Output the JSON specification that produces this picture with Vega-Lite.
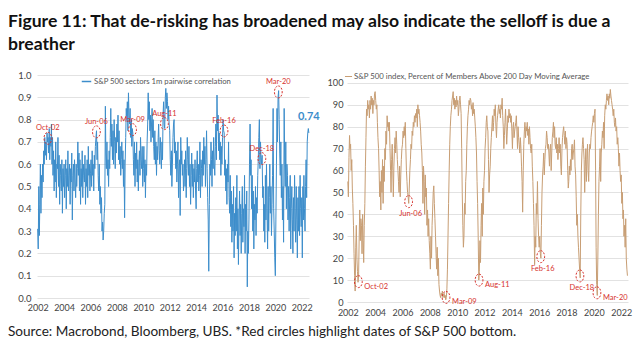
{
  "$schema": "https://vega.github.io/schema/vega-lite/v6.json",
  "padding": {"left": 8, "top": 13, "right": 4, "bottom": 4},
  "title": {
    "text": ["Figure 11: That de-risking has broadened may also indicate the selloff is due a", "breather"],
    "anchor": "start", "font": "Lato", "fontSize": 17.6, "fontWeight": "bold", "color": "#111111", "lineHeight": 23, "offset": 16
  },
  "datasets": {
    "series": [
      {"date":"2002-01-01","corr":0.31,"pct":55},{"date":"2002-01-16","corr":0.22,"pct":48},{"date":"2002-02-01","corr":0.5,"pct":66},{"date":"2002-02-16","corr":0.28,"pct":76},{"date":"2002-03-01","corr":0.42,"pct":70},{"date":"2002-03-16","corr":0.6,"pct":72},{"date":"2002-04-01","corr":0.38,"pct":60},{"date":"2002-04-16","corr":0.55,"pct":65},{"date":"2002-05-01","corr":0.45,"pct":52},{"date":"2002-05-16","corr":0.6,"pct":45},{"date":"2002-06-01","corr":0.52,"pct":35},{"date":"2002-06-16","corr":0.66,"pct":22},{"date":"2002-07-01","corr":0.6,"pct":12},{"date":"2002-07-16","corr":0.72,"pct":5},{"date":"2002-08-01","corr":0.64,"pct":25},{"date":"2002-08-16","corr":0.7,"pct":35},{"date":"2002-09-01","corr":0.62,"pct":20},{"date":"2002-09-16","corr":0.74,"pct":14},{"date":"2002-10-01","corr":0.7,"pct":9},{"date":"2002-10-16","corr":0.72,"pct":12},{"date":"2002-11-01","corr":0.65,"pct":30},{"date":"2002-11-16","corr":0.76,"pct":42},{"date":"2002-12-01","corr":0.62,"pct":28},{"date":"2002-12-16","corr":0.72,"pct":38},
      {"date":"2003-01-01","corr":0.68,"pct":35},{"date":"2003-01-16","corr":0.78,"pct":22},{"date":"2003-02-01","corr":0.6,"pct":40},{"date":"2003-02-16","corr":0.72,"pct":28},{"date":"2003-03-01","corr":0.55,"pct":18},{"date":"2003-03-16","corr":0.66,"pct":35},{"date":"2003-04-01","corr":0.48,"pct":45},{"date":"2003-04-16","corr":0.62,"pct":62},{"date":"2003-05-01","corr":0.52,"pct":75},{"date":"2003-05-16","corr":0.7,"pct":88},{"date":"2003-06-01","corr":0.45,"pct":85},{"date":"2003-06-16","corr":0.6,"pct":92},{"date":"2003-07-01","corr":0.58,"pct":88},{"date":"2003-07-16","corr":0.72,"pct":90},{"date":"2003-08-01","corr":0.5,"pct":84},{"date":"2003-08-16","corr":0.64,"pct":92},{"date":"2003-09-01","corr":0.42,"pct":88},{"date":"2003-09-16","corr":0.6,"pct":94},{"date":"2003-10-01","corr":0.55,"pct":90},{"date":"2003-10-16","corr":0.48,"pct":93},{"date":"2003-11-01","corr":0.62,"pct":86},{"date":"2003-11-16","corr":0.38,"pct":92},{"date":"2003-12-01","corr":0.58,"pct":90},{"date":"2003-12-16","corr":0.5,"pct":95},
      {"date":"2004-01-01","corr":0.6,"pct":96},{"date":"2004-01-16","corr":0.45,"pct":92},{"date":"2004-02-01","corr":0.55,"pct":88},{"date":"2004-02-16","corr":0.62,"pct":90},{"date":"2004-03-01","corr":0.4,"pct":82},{"date":"2004-03-16","corr":0.58,"pct":75},{"date":"2004-04-01","corr":0.5,"pct":70},{"date":"2004-04-16","corr":0.66,"pct":60},{"date":"2004-05-01","corr":0.48,"pct":48},{"date":"2004-05-16","corr":0.55,"pct":55},{"date":"2004-06-01","corr":0.6,"pct":42},{"date":"2004-06-16","corr":0.42,"pct":60},{"date":"2004-07-01","corr":0.58,"pct":50},{"date":"2004-07-16","corr":0.52,"pct":65},{"date":"2004-08-01","corr":0.65,"pct":45},{"date":"2004-08-16","corr":0.35,"pct":62},{"date":"2004-09-01","corr":0.55,"pct":55},{"date":"2004-09-16","corr":0.6,"pct":70},{"date":"2004-10-01","corr":0.48,"pct":65},{"date":"2004-10-16","corr":0.62,"pct":78},{"date":"2004-11-01","corr":0.52,"pct":72},{"date":"2004-11-16","corr":0.45,"pct":85},{"date":"2004-12-01","corr":0.6,"pct":80},{"date":"2004-12-16","corr":0.5,"pct":82},
      {"date":"2005-01-01","corr":0.58,"pct":78},{"date":"2005-01-16","corr":0.7,"pct":82},{"date":"2005-02-01","corr":0.55,"pct":70},{"date":"2005-02-16","corr":0.65,"pct":60},{"date":"2005-03-01","corr":0.48,"pct":50},{"date":"2005-03-16","corr":0.62,"pct":65},{"date":"2005-04-01","corr":0.42,"pct":72},{"date":"2005-04-16","corr":0.58,"pct":60},{"date":"2005-05-01","corr":0.5,"pct":48},{"date":"2005-05-16","corr":0.66,"pct":62},{"date":"2005-06-01","corr":0.45,"pct":70},{"date":"2005-06-16","corr":0.6,"pct":75},{"date":"2005-07-01","corr":0.55,"pct":68},{"date":"2005-07-16","corr":0.52,"pct":78},{"date":"2005-08-01","corr":0.64,"pct":72},{"date":"2005-08-16","corr":0.42,"pct":65},{"date":"2005-09-01","corr":0.58,"pct":60},{"date":"2005-09-16","corr":0.5,"pct":55},{"date":"2005-10-01","corr":0.62,"pct":50},{"date":"2005-10-16","corr":0.45,"pct":62},{"date":"2005-11-01","corr":0.68,"pct":48},{"date":"2005-11-16","corr":0.55,"pct":58},{"date":"2005-12-01","corr":0.6,"pct":65},{"date":"2005-12-16","corr":0.48,"pct":70},
      {"date":"2006-01-01","corr":0.56,"pct":72},{"date":"2006-01-16","corr":0.62,"pct":78},{"date":"2006-02-01","corr":0.5,"pct":75},{"date":"2006-02-16","corr":0.66,"pct":80},{"date":"2006-03-01","corr":0.55,"pct":76},{"date":"2006-03-16","corr":0.6,"pct":82},{"date":"2006-04-01","corr":0.48,"pct":70},{"date":"2006-04-16","corr":0.64,"pct":60},{"date":"2006-05-01","corr":0.58,"pct":55},{"date":"2006-05-16","corr":0.68,"pct":50},{"date":"2006-06-01","corr":0.72,"pct":48},{"date":"2006-06-16","corr":0.75,"pct":45},{"date":"2006-07-01","corr":0.62,"pct":52},{"date":"2006-07-16","corr":0.7,"pct":60},{"date":"2006-08-01","corr":0.55,"pct":65},{"date":"2006-08-16","corr":0.48,"pct":72},{"date":"2006-09-01","corr":0.6,"pct":70},{"date":"2006-09-16","corr":0.42,"pct":78},{"date":"2006-10-01","corr":0.5,"pct":76},{"date":"2006-10-16","corr":0.38,"pct":82},{"date":"2006-11-01","corr":0.45,"pct":80},{"date":"2006-11-16","corr":0.3,"pct":85},{"date":"2006-12-01","corr":0.34,"pct":82},{"date":"2006-12-16","corr":0.26,"pct":86},
      {"date":"2007-01-01","corr":0.3,"pct":84},{"date":"2007-01-16","corr":0.38,"pct":88},{"date":"2007-02-01","corr":0.42,"pct":80},{"date":"2007-02-16","corr":0.86,"pct":90},{"date":"2007-03-01","corr":0.65,"pct":86},{"date":"2007-03-16","corr":0.58,"pct":88},{"date":"2007-04-01","corr":0.7,"pct":85},{"date":"2007-04-16","corr":0.55,"pct":82},{"date":"2007-05-01","corr":0.62,"pct":78},{"date":"2007-05-16","corr":0.5,"pct":72},{"date":"2007-06-01","corr":0.66,"pct":68},{"date":"2007-06-16","corr":0.58,"pct":60},{"date":"2007-07-01","corr":0.72,"pct":45},{"date":"2007-07-16","corr":0.85,"pct":62},{"date":"2007-08-01","corr":0.68,"pct":55},{"date":"2007-08-16","corr":0.78,"pct":40},{"date":"2007-09-01","corr":0.62,"pct":58},{"date":"2007-09-16","corr":0.75,"pct":48},{"date":"2007-10-01","corr":0.6,"pct":52},{"date":"2007-10-16","corr":0.8,"pct":35},{"date":"2007-11-01","corr":0.7,"pct":42},{"date":"2007-11-16","corr":0.58,"pct":30},{"date":"2007-12-01","corr":0.72,"pct":38},{"date":"2007-12-16","corr":0.65,"pct":28},
      {"date":"2008-01-01","corr":0.78,"pct":22},{"date":"2008-01-16","corr":0.7,"pct":15},{"date":"2008-02-01","corr":0.82,"pct":30},{"date":"2008-02-16","corr":0.62,"pct":20},{"date":"2008-03-01","corr":0.75,"pct":35},{"date":"2008-03-16","corr":0.6,"pct":42},{"date":"2008-04-01","corr":0.68,"pct":50},{"date":"2008-04-16","corr":0.55,"pct":53},{"date":"2008-05-01","corr":0.62,"pct":45},{"date":"2008-05-16","corr":0.7,"pct":38},{"date":"2008-06-01","corr":0.58,"pct":30},{"date":"2008-06-16","corr":0.66,"pct":22},{"date":"2008-07-01","corr":0.5,"pct":15},{"date":"2008-07-16","corr":0.62,"pct":25},{"date":"2008-08-01","corr":0.36,"pct":12},{"date":"2008-08-16","corr":0.6,"pct":20},{"date":"2008-09-01","corr":0.72,"pct":8},{"date":"2008-09-16","corr":0.85,"pct":5},{"date":"2008-10-01","corr":0.8,"pct":3},{"date":"2008-10-16","corr":0.88,"pct":2},{"date":"2008-11-01","corr":0.75,"pct":4},{"date":"2008-11-16","corr":0.92,"pct":3},{"date":"2008-12-01","corr":0.82,"pct":5},{"date":"2008-12-16","corr":0.78,"pct":2},
      {"date":"2009-01-01","corr":0.85,"pct":3},{"date":"2009-01-16","corr":0.72,"pct":4},{"date":"2009-02-01","corr":0.8,"pct":2},{"date":"2009-02-16","corr":0.68,"pct":3},{"date":"2009-03-01","corr":0.76,"pct":1},{"date":"2009-03-16","corr":0.74,"pct":2},{"date":"2009-04-01","corr":0.62,"pct":6},{"date":"2009-04-16","corr":0.55,"pct":15},{"date":"2009-05-01","corr":0.7,"pct":30},{"date":"2009-05-16","corr":0.5,"pct":45},{"date":"2009-06-01","corr":0.65,"pct":60},{"date":"2009-06-16","corr":0.58,"pct":72},{"date":"2009-07-01","corr":0.7,"pct":80},{"date":"2009-07-16","corr":0.52,"pct":85},{"date":"2009-08-01","corr":0.62,"pct":88},{"date":"2009-08-16","corr":0.48,"pct":92},{"date":"2009-09-01","corr":0.6,"pct":94},{"date":"2009-09-16","corr":0.66,"pct":96},{"date":"2009-10-01","corr":0.55,"pct":90},{"date":"2009-10-16","corr":0.72,"pct":93},{"date":"2009-11-01","corr":0.62,"pct":88},{"date":"2009-11-16","corr":0.58,"pct":92},{"date":"2009-12-01","corr":0.68,"pct":89},{"date":"2009-12-16","corr":0.5,"pct":94},
      {"date":"2010-01-01","corr":0.58,"pct":90},{"date":"2010-01-16","corr":0.68,"pct":92},{"date":"2010-02-01","corr":0.52,"pct":85},{"date":"2010-02-16","corr":0.62,"pct":88},{"date":"2010-03-01","corr":0.45,"pct":92},{"date":"2010-03-16","corr":0.6,"pct":94},{"date":"2010-04-01","corr":0.55,"pct":90},{"date":"2010-04-16","corr":0.7,"pct":86},{"date":"2010-05-01","corr":0.78,"pct":70},{"date":"2010-05-16","corr":0.92,"pct":50},{"date":"2010-06-01","corr":0.8,"pct":35},{"date":"2010-06-16","corr":0.88,"pct":25},{"date":"2010-07-01","corr":0.75,"pct":30},{"date":"2010-07-16","corr":0.82,"pct":45},{"date":"2010-08-01","corr":0.7,"pct":40},{"date":"2010-08-16","corr":0.78,"pct":55},{"date":"2010-09-01","corr":0.85,"pct":60},{"date":"2010-09-16","corr":0.72,"pct":72},{"date":"2010-10-01","corr":0.8,"pct":80},{"date":"2010-10-16","corr":0.68,"pct":85},{"date":"2010-11-01","corr":0.62,"pct":88},{"date":"2010-11-16","corr":0.75,"pct":92},{"date":"2010-12-01","corr":0.6,"pct":90},{"date":"2010-12-16","corr":0.7,"pct":93},
      {"date":"2011-01-01","corr":0.55,"pct":92},{"date":"2011-01-16","corr":0.68,"pct":88},{"date":"2011-02-01","corr":0.62,"pct":90},{"date":"2011-02-16","corr":0.72,"pct":85},{"date":"2011-03-01","corr":0.78,"pct":91},{"date":"2011-03-16","corr":0.66,"pct":86},{"date":"2011-04-01","corr":0.6,"pct":88},{"date":"2011-04-16","corr":0.72,"pct":84},{"date":"2011-05-01","corr":0.65,"pct":80},{"date":"2011-05-16","corr":0.58,"pct":75},{"date":"2011-06-01","corr":0.7,"pct":68},{"date":"2011-06-16","corr":0.62,"pct":55},{"date":"2011-07-01","corr":0.82,"pct":45},{"date":"2011-07-16","corr":0.88,"pct":30},{"date":"2011-08-01","corr":0.78,"pct":10},{"date":"2011-08-16","corr":0.76,"pct":14},{"date":"2011-09-01","corr":0.9,"pct":28},{"date":"2011-09-16","corr":0.94,"pct":18},{"date":"2011-10-01","corr":0.85,"pct":35},{"date":"2011-10-16","corr":0.92,"pct":45},{"date":"2011-11-01","corr":0.88,"pct":30},{"date":"2011-11-16","corr":0.8,"pct":52},{"date":"2011-12-01","corr":0.86,"pct":40},{"date":"2011-12-16","corr":0.78,"pct":55},
      {"date":"2012-01-01","corr":0.75,"pct":60},{"date":"2012-01-16","corr":0.62,"pct":70},{"date":"2012-02-01","corr":0.55,"pct":75},{"date":"2012-02-16","corr":0.66,"pct":82},{"date":"2012-03-01","corr":0.5,"pct":85},{"date":"2012-03-16","corr":0.6,"pct":80},{"date":"2012-04-01","corr":0.72,"pct":78},{"date":"2012-04-16","corr":0.78,"pct":65},{"date":"2012-05-01","corr":0.8,"pct":50},{"date":"2012-05-16","corr":0.65,"pct":58},{"date":"2012-06-01","corr":0.7,"pct":62},{"date":"2012-06-16","corr":0.58,"pct":70},{"date":"2012-07-01","corr":0.66,"pct":75},{"date":"2012-07-16","corr":0.52,"pct":80},{"date":"2012-08-01","corr":0.6,"pct":85},{"date":"2012-08-16","corr":0.7,"pct":78},{"date":"2012-09-01","corr":0.45,"pct":82},{"date":"2012-09-16","corr":0.58,"pct":88},{"date":"2012-10-01","corr":0.62,"pct":85},{"date":"2012-10-16","corr":0.37,"pct":90},{"date":"2012-11-01","corr":0.72,"pct":80},{"date":"2012-11-16","corr":0.6,"pct":75},{"date":"2012-12-01","corr":0.66,"pct":82},{"date":"2012-12-16","corr":0.55,"pct":85},
      {"date":"2013-01-01","corr":0.6,"pct":88},{"date":"2013-01-16","corr":0.48,"pct":90},{"date":"2013-02-01","corr":0.55,"pct":86},{"date":"2013-02-16","corr":0.62,"pct":88},{"date":"2013-03-01","corr":0.5,"pct":84},{"date":"2013-03-16","corr":0.66,"pct":90},{"date":"2013-04-01","corr":0.45,"pct":88},{"date":"2013-04-16","corr":0.58,"pct":93},{"date":"2013-05-01","corr":0.72,"pct":85},{"date":"2013-05-16","corr":0.62,"pct":80},{"date":"2013-06-01","corr":0.55,"pct":70},{"date":"2013-06-16","corr":0.68,"pct":76},{"date":"2013-07-01","corr":0.5,"pct":82},{"date":"2013-07-16","corr":0.6,"pct":88},{"date":"2013-08-01","corr":0.42,"pct":80},{"date":"2013-08-16","corr":0.55,"pct":72},{"date":"2013-09-01","corr":0.65,"pct":78},{"date":"2013-09-16","corr":0.5,"pct":85},{"date":"2013-10-01","corr":0.6,"pct":82},{"date":"2013-10-16","corr":0.45,"pct":88},{"date":"2013-11-01","corr":0.58,"pct":84},{"date":"2013-11-16","corr":0.52,"pct":86},{"date":"2013-12-01","corr":0.62,"pct":82},{"date":"2013-12-16","corr":0.48,"pct":85},
      {"date":"2014-01-01","corr":0.4,"pct":78},{"date":"2014-01-16","corr":0.58,"pct":70},{"date":"2014-02-01","corr":0.66,"pct":80},{"date":"2014-02-16","corr":0.52,"pct":82},{"date":"2014-03-01","corr":0.6,"pct":75},{"date":"2014-03-16","corr":0.48,"pct":78},{"date":"2014-04-01","corr":0.55,"pct":80},{"date":"2014-04-16","corr":0.7,"pct":82},{"date":"2014-05-01","corr":0.45,"pct":85},{"date":"2014-05-16","corr":0.62,"pct":78},{"date":"2014-06-01","corr":0.58,"pct":70},{"date":"2014-06-16","corr":0.5,"pct":80},{"date":"2014-07-01","corr":0.66,"pct":75},{"date":"2014-07-16","corr":0.55,"pct":72},{"date":"2014-08-01","corr":0.72,"pct":68},{"date":"2014-08-16","corr":0.6,"pct":75},{"date":"2014-09-01","corr":0.68,"pct":70},{"date":"2014-09-16","corr":0.5,"pct":62},{"date":"2014-10-01","corr":0.62,"pct":55},{"date":"2014-10-16","corr":0.75,"pct":41},{"date":"2014-11-01","corr":0.58,"pct":60},{"date":"2014-11-16","corr":0.45,"pct":72},{"date":"2014-12-01","corr":0.35,"pct":78},{"date":"2014-12-16","corr":0.12,"pct":82},
      {"date":"2015-01-01","corr":0.42,"pct":75},{"date":"2015-01-16","corr":0.6,"pct":80},{"date":"2015-02-01","corr":0.55,"pct":78},{"date":"2015-02-16","corr":0.7,"pct":82},{"date":"2015-03-01","corr":0.62,"pct":76},{"date":"2015-03-16","corr":0.5,"pct":79},{"date":"2015-04-01","corr":0.66,"pct":72},{"date":"2015-04-16","corr":0.58,"pct":80},{"date":"2015-05-01","corr":0.72,"pct":75},{"date":"2015-05-16","corr":0.6,"pct":70},{"date":"2015-06-01","corr":0.55,"pct":68},{"date":"2015-06-16","corr":0.68,"pct":72},{"date":"2015-07-01","corr":0.78,"pct":62},{"date":"2015-07-16","corr":0.62,"pct":55},{"date":"2015-08-01","corr":0.91,"pct":45},{"date":"2015-08-16","corr":0.75,"pct":35},{"date":"2015-09-01","corr":0.82,"pct":17},{"date":"2015-09-16","corr":0.66,"pct":30},{"date":"2015-10-01","corr":0.74,"pct":25},{"date":"2015-10-16","corr":0.62,"pct":45},{"date":"2015-11-01","corr":0.7,"pct":40},{"date":"2015-11-16","corr":0.55,"pct":55},{"date":"2015-12-01","corr":0.68,"pct":38},{"date":"2015-12-16","corr":0.6,"pct":30},
      {"date":"2016-01-01","corr":0.72,"pct":25},{"date":"2016-01-16","corr":0.8,"pct":30},{"date":"2016-02-01","corr":0.75,"pct":22},{"date":"2016-02-16","corr":0.74,"pct":20},{"date":"2016-03-01","corr":0.55,"pct":35},{"date":"2016-03-16","corr":0.62,"pct":50},{"date":"2016-04-01","corr":0.48,"pct":58},{"date":"2016-04-16","corr":0.58,"pct":62},{"date":"2016-05-01","corr":0.42,"pct":68},{"date":"2016-05-16","corr":0.6,"pct":58},{"date":"2016-06-01","corr":0.52,"pct":65},{"date":"2016-06-16","corr":0.7,"pct":70},{"date":"2016-07-01","corr":0.45,"pct":72},{"date":"2016-07-16","corr":0.38,"pct":78},{"date":"2016-08-01","corr":0.55,"pct":75},{"date":"2016-08-16","corr":0.32,"pct":70},{"date":"2016-09-01","corr":0.48,"pct":72},{"date":"2016-09-16","corr":0.25,"pct":68},{"date":"2016-10-01","corr":0.42,"pct":62},{"date":"2016-10-16","corr":0.3,"pct":70},{"date":"2016-11-01","corr":0.5,"pct":72},{"date":"2016-11-16","corr":0.18,"pct":60},{"date":"2016-12-01","corr":0.38,"pct":68},{"date":"2016-12-16","corr":0.28,"pct":75},
      {"date":"2017-01-01","corr":0.45,"pct":78},{"date":"2017-01-16","corr":0.3,"pct":82},{"date":"2017-02-01","corr":0.55,"pct":75},{"date":"2017-02-16","corr":0.22,"pct":80},{"date":"2017-03-01","corr":0.4,"pct":72},{"date":"2017-03-16","corr":0.15,"pct":70},{"date":"2017-04-01","corr":0.35,"pct":75},{"date":"2017-04-16","corr":0.48,"pct":68},{"date":"2017-05-01","corr":0.28,"pct":72},{"date":"2017-05-16","corr":0.42,"pct":65},{"date":"2017-06-01","corr":0.2,"pct":70},{"date":"2017-06-16","corr":0.38,"pct":75},{"date":"2017-07-01","corr":0.5,"pct":68},{"date":"2017-07-16","corr":0.25,"pct":72},{"date":"2017-08-01","corr":0.4,"pct":62},{"date":"2017-08-16","corr":0.32,"pct":58},{"date":"2017-09-01","corr":0.55,"pct":70},{"date":"2017-09-16","corr":0.2,"pct":75},{"date":"2017-10-01","corr":0.42,"pct":78},{"date":"2017-10-16","corr":0.3,"pct":80},{"date":"2017-11-01","corr":0.48,"pct":76},{"date":"2017-11-16","corr":0.05,"pct":72},{"date":"2017-12-01","corr":0.3,"pct":78},{"date":"2017-12-16","corr":0.2,"pct":70},
      {"date":"2018-01-01","corr":0.35,"pct":75},{"date":"2018-01-16","corr":0.6,"pct":72},{"date":"2018-02-01","corr":0.78,"pct":60},{"date":"2018-02-16","corr":0.55,"pct":52},{"date":"2018-03-01","corr":0.62,"pct":55},{"date":"2018-03-16","corr":0.4,"pct":62},{"date":"2018-04-01","corr":0.55,"pct":58},{"date":"2018-04-16","corr":0.3,"pct":65},{"date":"2018-05-01","corr":0.48,"pct":60},{"date":"2018-05-16","corr":0.22,"pct":70},{"date":"2018-06-01","corr":0.42,"pct":72},{"date":"2018-06-16","corr":0.35,"pct":65},{"date":"2018-07-01","corr":0.5,"pct":68},{"date":"2018-07-16","corr":0.28,"pct":70},{"date":"2018-08-01","corr":0.45,"pct":74},{"date":"2018-08-16","corr":0.38,"pct":62},{"date":"2018-09-01","corr":0.55,"pct":58},{"date":"2018-09-16","corr":0.62,"pct":48},{"date":"2018-10-01","corr":0.72,"pct":35},{"date":"2018-10-16","corr":0.8,"pct":40},{"date":"2018-11-01","corr":0.58,"pct":30},{"date":"2018-11-16","corr":0.7,"pct":25},{"date":"2018-12-01","corr":0.63,"pct":20},{"date":"2018-12-16","corr":0.6,"pct":15},
      {"date":"2019-01-01","corr":0.64,"pct":11},{"date":"2019-01-16","corr":0.45,"pct":40},{"date":"2019-02-01","corr":0.5,"pct":60},{"date":"2019-02-16","corr":0.3,"pct":68},{"date":"2019-03-01","corr":0.42,"pct":72},{"date":"2019-03-16","corr":0.25,"pct":75},{"date":"2019-04-01","corr":0.55,"pct":70},{"date":"2019-04-16","corr":0.35,"pct":65},{"date":"2019-05-01","corr":0.6,"pct":50},{"date":"2019-05-16","corr":0.4,"pct":62},{"date":"2019-06-01","corr":0.22,"pct":70},{"date":"2019-06-16","corr":0.5,"pct":55},{"date":"2019-07-01","corr":0.3,"pct":65},{"date":"2019-07-16","corr":0.45,"pct":72},{"date":"2019-08-01","corr":0.6,"pct":60},{"date":"2019-08-16","corr":0.38,"pct":55},{"date":"2019-09-01","corr":0.5,"pct":68},{"date":"2019-09-16","corr":0.28,"pct":72},{"date":"2019-10-01","corr":0.42,"pct":70},{"date":"2019-10-16","corr":0.55,"pct":75},{"date":"2019-11-01","corr":0.85,"pct":78},{"date":"2019-11-16","corr":0.4,"pct":80},{"date":"2019-12-01","corr":0.3,"pct":82},{"date":"2019-12-16","corr":0.18,"pct":85},
      {"date":"2020-01-01","corr":0.1,"pct":82},{"date":"2020-01-16","corr":0.35,"pct":86},{"date":"2020-02-01","corr":0.6,"pct":88},{"date":"2020-02-16","corr":0.85,"pct":60},{"date":"2020-03-01","corr":0.7,"pct":25},{"date":"2020-03-16","corr":0.9,"pct":8},{"date":"2020-04-01","corr":0.93,"pct":3},{"date":"2020-04-16","corr":0.8,"pct":20},{"date":"2020-05-01","corr":0.65,"pct":40},{"date":"2020-05-16","corr":0.55,"pct":55},{"date":"2020-06-01","corr":0.7,"pct":62},{"date":"2020-06-16","corr":0.45,"pct":70},{"date":"2020-07-01","corr":0.6,"pct":55},{"date":"2020-07-16","corr":0.35,"pct":68},{"date":"2020-08-01","corr":0.5,"pct":72},{"date":"2020-08-16","corr":0.25,"pct":78},{"date":"2020-09-01","corr":0.85,"pct":75},{"date":"2020-09-16","corr":0.6,"pct":82},{"date":"2020-10-01","corr":0.5,"pct":70},{"date":"2020-10-16","corr":0.7,"pct":85},{"date":"2020-11-01","corr":0.4,"pct":90},{"date":"2020-11-16","corr":0.6,"pct":88},{"date":"2020-12-01","corr":0.55,"pct":92},{"date":"2020-12-16","corr":0.35,"pct":95},
      {"date":"2021-01-01","corr":0.5,"pct":92},{"date":"2021-01-16","corr":0.3,"pct":94},{"date":"2021-02-01","corr":0.45,"pct":90},{"date":"2021-02-16","corr":0.55,"pct":95},{"date":"2021-03-01","corr":0.22,"pct":93},{"date":"2021-03-16","corr":0.4,"pct":97},{"date":"2021-04-01","corr":0.5,"pct":94},{"date":"2021-04-16","corr":0.35,"pct":92},{"date":"2021-05-01","corr":0.2,"pct":90},{"date":"2021-05-16","corr":0.45,"pct":88},{"date":"2021-06-01","corr":0.3,"pct":85},{"date":"2021-06-16","corr":0.55,"pct":88},{"date":"2021-07-01","corr":0.4,"pct":82},{"date":"2021-07-16","corr":0.25,"pct":80},{"date":"2021-08-01","corr":0.5,"pct":84},{"date":"2021-08-16","corr":0.35,"pct":78},{"date":"2021-09-01","corr":0.18,"pct":80},{"date":"2021-09-16","corr":0.45,"pct":72},{"date":"2021-10-01","corr":0.3,"pct":75},{"date":"2021-10-16","corr":0.5,"pct":70},{"date":"2021-11-01","corr":0.28,"pct":62},{"date":"2021-11-16","corr":0.55,"pct":68},{"date":"2021-12-01","corr":0.4,"pct":60},{"date":"2021-12-16","corr":0.32,"pct":55},
      {"date":"2022-01-01","corr":0.45,"pct":58},{"date":"2022-01-16","corr":0.18,"pct":45},{"date":"2022-02-01","corr":0.5,"pct":50},{"date":"2022-02-16","corr":0.35,"pct":38},{"date":"2022-03-01","corr":0.55,"pct":42},{"date":"2022-03-16","corr":0.4,"pct":30},{"date":"2022-04-01","corr":0.3,"pct":35},{"date":"2022-04-16","corr":0.5,"pct":25},{"date":"2022-05-01","corr":0.62,"pct":38},{"date":"2022-05-16","corr":0.45,"pct":20},{"date":"2022-06-01","corr":0.7,"pct":15},{"date":"2022-06-16","corr":0.74,"pct":12},{"date":"2022-07-01","corr":0.76,"pct":null},{"date":"2022-07-16","corr":0.74,"pct":null}
    ],
    "bottoms": [
      {"event":"Oct-02","date":"2002-10-09","corr":0.716,"pct":9.3},
      {"event":"Jun-06","date":"2006-06-13","corr":0.745,"pct":45.8},
      {"event":"Mar-09","date":"2009-03-09","corr":0.755,"pct":2.1},
      {"event":"Aug-11","date":"2011-08-08","corr":0.782,"pct":10},
      {"event":"Feb-16","date":"2016-02-11","corr":0.749,"pct":20.7},
      {"event":"Dec-18","date":"2018-12-24","corr":0.625,"pct":11.9},
      {"event":"Mar-20","date":"2020-03-23","corr":0.924,"pct":4.2}
    ],
    "latest": [{"date":"2022-07-16","corr":0.74,"label":"0.74"}]
  },
  "vconcat": [
    {
      "title": {"text": "Source: Macrobond, Bloomberg, UBS. *Red circles highlight dates of S&P 500 bottom.", "orient": "bottom", "anchor": "start", "font": "Lato", "fontSize": 13.6, "fontWeight": "normal", "color": "#222222", "offset": 8},
      "spacing": 7,
      "resolve": {"scale": {"color": "independent"}},
      "hconcat": [
        {
          "width": 272, "height": 223,
          "encoding": {
            "x": {"field": "date", "type": "temporal", "scale": {"type": "utc", "domain": [{"year": 2001, "month": 12, "date": 13, "utc": true}, {"year": 2022, "month": 7, "date": 20, "utc": true}]},
                  "axis": {"title": null, "format": "%Y", "formatType": "utc", "tickCount": {"interval": "year", "step": 2}, "grid": false, "labelFontSize": 9, "labelPadding": 5, "labelFlush": false}},
            "y": {"field": "corr", "type": "quantitative", "scale": {"domain": [0, 1], "nice": false},
                  "axis": {"title": null, "values": [0,0.1,0.2,0.3,0.4,0.5,0.6,0.7,0.8,0.9,1], "format": ".1f", "labelFontSize": 9.5, "labelPadding": 6, "minExtent": 29}}
          },
          "layer": [
            {
              "data": {"name": "series"},
              "mark": {"type": "line", "strokeWidth": 1},
              "encoding": {
                "color": {"datum": "S&P 500 sectors 1m pairwise correlation", "type": "nominal", "scale": {"range": ["#3c8dcb"]},
                  "legend": {"title": null, "orient": "none", "legendX": 44, "legendY": 1, "symbolType": "stroke", "symbolSize": 90, "symbolStrokeWidth": 1.5, "labelFontSize": 7.7, "labelColor": "#555555", "labelFont": "Lato", "labelOffset": 2, "labelLimit": 400}}
              }
            },
            {
              "data": {"name": "bottoms"},
              "mark": {"type": "point", "shape": "M0,-1A0.65,1,0,0,1,0,1A0.65,1,0,0,1,0,-1Z", "size": 144, "filled": false, "stroke": "#d6322d", "strokeWidth": 1, "strokeDash": [2, 1.5], "opacity": 1}
            },
            {
              "data": {"name": "bottoms"},
              "mark": {"type": "text", "color": "#d6322d", "fontSize": 7.5, "font": "Lato", "dy": -10, "baseline": "middle", "align": "center"},
              "encoding": {"text": {"field": "event"}}
            },
            {
              "data": {"name": "latest"},
              "mark": {"type": "text", "color": "#3c8dcb", "fontSize": 11, "fontWeight": "bold", "dy": -16, "baseline": "middle", "align": "center"},
              "encoding": {"text": {"field": "label"}}
            }
          ]
        },
        {
          "width": 281, "height": 227,
          "encoding": {
            "x": {"field": "date", "type": "temporal", "scale": {"type": "utc", "domain": [{"year": 2001, "month": 12, "date": 10, "utc": true}, {"year": 2022, "month": 7, "date": 1, "utc": true}]},
                  "axis": {"title": null, "format": "%Y", "formatType": "utc", "tickCount": {"interval": "year", "step": 2}, "grid": false, "labelFontSize": 9, "labelPadding": 6, "labelFlush": false}},
            "y": {"field": "pct", "type": "quantitative", "scale": {"domain": [0, 103.6], "nice": false},
                  "axis": {"title": null, "values": [0,10,20,30,40,50,60,70,80,90,100], "labelFontSize": 9.2, "labelPadding": 4, "minExtent": 18}}
          },
          "layer": [
            {
              "data": {"name": "series"},
              "mark": {"type": "line", "strokeWidth": 1},
              "encoding": {
                "color": {"datum": "S&P 500 index, Percent of Members Above 200 Day Moving Average", "type": "nominal", "scale": {"range": ["#c89e74"]},
                  "legend": {"title": null, "orient": "none", "legendX": -3, "legendY": -3, "symbolType": "stroke", "symbolSize": 50, "symbolStrokeWidth": 1, "labelFontSize": 7.8, "labelColor": "#555555", "labelFont": "Lato", "labelOffset": 1, "labelLimit": 400}}
              }
            },
            {
              "data": {"name": "bottoms"},
              "mark": {"type": "point", "shape": "M0,-1A0.65,1,0,0,1,0,1A0.65,1,0,0,1,0,-1Z", "size": 144, "filled": false, "stroke": "#d6322d", "strokeWidth": 1, "strokeDash": [2, 1.5], "opacity": 1}
            },
            {
              "data": {"name": "bottoms"},
              "transform": [{"filter": {"field": "event", "oneOf": ["Jun-06", "Feb-16", "Dec-18"]}}],
              "mark": {"type": "text", "color": "#d6322d", "fontSize": 7.5, "font": "Lato", "dy": 12, "dx": 2, "baseline": "middle", "align": "center"},
              "encoding": {"text": {"field": "event"}}
            },
            {
              "data": {"name": "bottoms"},
              "transform": [{"filter": {"field": "event", "oneOf": ["Oct-02", "Mar-09", "Aug-11", "Mar-20"]}}],
              "mark": {"type": "text", "color": "#d6322d", "fontSize": 7.5, "font": "Lato", "dy": 5, "dx": 6, "baseline": "middle", "align": "left"},
              "encoding": {"text": {"field": "event"}}
            }
          ]
        }
      ]
    }
  ],
  "config": {
    "font": "Lato",
    "view": {"stroke": null},
    "axis": {"labelColor": "#444444", "labelFont": "Lato", "domain": false, "ticks": false, "gridColor": "#e2e2e2", "gridWidth": 1}
  }
}
